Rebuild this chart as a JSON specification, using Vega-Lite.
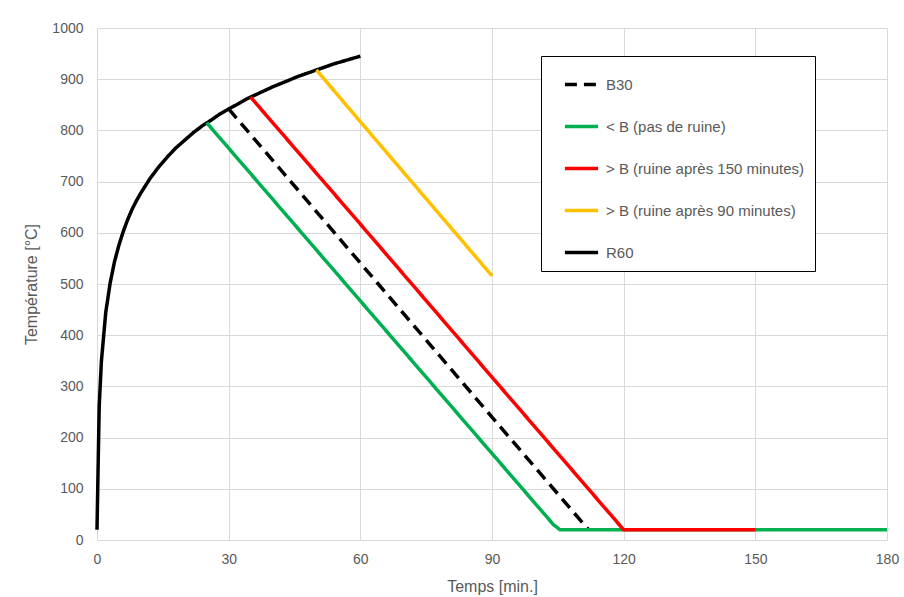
{
  "$schema": "https://vega.github.io/schema/vega-lite/v6.json",
  "width": 790,
  "height": 512,
  "autosize": {"type": "none"},
  "padding": {"left": 97, "top": 28, "right": 17, "bottom": 57},
  "background": "white",
  "config": {
    "font": "Liberation Sans",
    "view": {"stroke": null},
    "axis": {
      "labelColor": "#595959",
      "titleColor": "#595959",
      "labelFontSize": 14,
      "titleFontSize": 16,
      "titleFontWeight": "normal",
      "gridColor": "#d9d9d9",
      "gridWidth": 1,
      "ticks": false,
      "domain": false
    }
  },
  "data": {
    "values": [
      {"serie": "R60", "t": 0, "T": 20},
      {"serie": "R60", "t": 0.5, "T": 261},
      {"serie": "R60", "t": 1, "T": 349},
      {"serie": "R60", "t": 2, "T": 445},
      {"serie": "R60", "t": 3, "T": 502},
      {"serie": "R60", "t": 4, "T": 544},
      {"serie": "R60", "t": 5, "T": 576},
      {"serie": "R60", "t": 6, "T": 603},
      {"serie": "R60", "t": 7, "T": 626},
      {"serie": "R60", "t": 8, "T": 646},
      {"serie": "R60", "t": 9, "T": 663},
      {"serie": "R60", "t": 10, "T": 678},
      {"serie": "R60", "t": 12, "T": 705},
      {"serie": "R60", "t": 14, "T": 728},
      {"serie": "R60", "t": 16, "T": 748},
      {"serie": "R60", "t": 18, "T": 766},
      {"serie": "R60", "t": 20, "T": 781},
      {"serie": "R60", "t": 22, "T": 796},
      {"serie": "R60", "t": 24, "T": 809},
      {"serie": "R60", "t": 26, "T": 820},
      {"serie": "R60", "t": 28, "T": 832},
      {"serie": "R60", "t": 30, "T": 842},
      {"serie": "R60", "t": 32, "T": 851},
      {"serie": "R60", "t": 34, "T": 861},
      {"serie": "R60", "t": 36, "T": 869},
      {"serie": "R60", "t": 38, "T": 877},
      {"serie": "R60", "t": 40, "T": 885},
      {"serie": "R60", "t": 42, "T": 892},
      {"serie": "R60", "t": 44, "T": 899},
      {"serie": "R60", "t": 46, "T": 906},
      {"serie": "R60", "t": 48, "T": 912},
      {"serie": "R60", "t": 50, "T": 918},
      {"serie": "R60", "t": 52, "T": 924},
      {"serie": "R60", "t": 54, "T": 930},
      {"serie": "R60", "t": 56, "T": 935},
      {"serie": "R60", "t": 58, "T": 940},
      {"serie": "R60", "t": 60, "T": 945},
      {"serie": "B30", "t": 30, "T": 842},
      {"serie": "B30", "t": 60, "T": 541},
      {"serie": "B30", "t": 90, "T": 240},
      {"serie": "B30", "t": 112, "T": 20},
      {"serie": "< B (pas de ruine)", "t": 25, "T": 815},
      {"serie": "< B (pas de ruine)", "t": 60, "T": 467},
      {"serie": "< B (pas de ruine)", "t": 90, "T": 169},
      {"serie": "< B (pas de ruine)", "t": 104, "T": 30},
      {"serie": "< B (pas de ruine)", "t": 105.5, "T": 20},
      {"serie": "< B (pas de ruine)", "t": 180, "T": 20},
      {"serie": "> B (ruine après 150 minutes)", "t": 35, "T": 865},
      {"serie": "> B (ruine après 150 minutes)", "t": 60, "T": 617},
      {"serie": "> B (ruine après 150 minutes)", "t": 90, "T": 318},
      {"serie": "> B (ruine après 150 minutes)", "t": 120, "T": 20},
      {"serie": "> B (ruine après 150 minutes)", "t": 150, "T": 20},
      {"serie": "> B (ruine après 90 minutes)", "t": 50, "T": 918},
      {"serie": "> B (ruine après 90 minutes)", "t": 60, "T": 817},
      {"serie": "> B (ruine après 90 minutes)", "t": 90, "T": 516}
    ]
  },
  "mark": {"type": "line", "strokeWidth": 3.5, "interpolate": "linear"},
  "encoding": {
    "x": {
      "field": "t", "type": "quantitative",
      "scale": {"domain": [0, 180], "nice": false, "zero": true},
      "axis": {"values": [0, 30, 60, 90, 120, 150, 180], "title": "Temps [min.]", "labelPadding": 12, "titlePadding": 12, "labelFlush": false}
    },
    "y": {
      "field": "T", "type": "quantitative",
      "scale": {"domain": [0, 1000], "nice": false},
      "axis": {"values": [0, 100, 200, 300, 400, 500, 600, 700, 800, 900, 1000], "format": "d", "title": "Température [°C]", "labelPadding": 14, "titlePadding": 12}
    },
    "order": {"field": "t", "type": "quantitative"},
    "color": {
      "field": "serie", "type": "nominal",
      "sort": ["B30", "< B (pas de ruine)", "> B (ruine après 150 minutes)", "> B (ruine après 90 minutes)", "R60"],
      "scale": {
        "domain": ["B30", "< B (pas de ruine)", "> B (ruine après 150 minutes)", "> B (ruine après 90 minutes)", "R60"],
        "range": ["#000000", "#00b050", "#ff0000", "#ffc000", "#000000"]
      },
      "legend": {
        "title": null,
        "orient": "none",
        "legendX": 444,
        "legendY": 28,
        "symbolType": "stroke",
        "symbolSize": 1100,
        "symbolStrokeWidth": 3.5,
        "symbolOffset": 12,
        "labelFontSize": 15,
        "labelColor": "#595959",
        "labelLimit": 300,
        "rowPadding": 15,
        "padding": 10,
        "strokeColor": "#000000",
        "fillColor": "white",
        "labelOffset": 6
      }
    },
    "strokeDash": {
      "field": "serie", "type": "nominal",
      "sort": ["B30", "< B (pas de ruine)", "> B (ruine après 150 minutes)", "> B (ruine après 90 minutes)", "R60"],
      "scale": {
        "domain": ["B30", "< B (pas de ruine)", "> B (ruine après 150 minutes)", "> B (ruine après 90 minutes)", "R60"],
        "range": [[12, 7], [1, 0], [1, 0], [1, 0], [1, 0]]
      },
      "legend": {
        "title": null,
        "orient": "none",
        "legendX": 444,
        "legendY": 28,
        "symbolType": "stroke",
        "symbolSize": 1100,
        "symbolStrokeWidth": 3.5,
        "symbolOffset": 12,
        "labelFontSize": 15,
        "labelColor": "#595959",
        "labelLimit": 300,
        "rowPadding": 15,
        "padding": 10,
        "strokeColor": "#000000",
        "fillColor": "white",
        "labelOffset": 6
      }
    },
    "strokeWidth": {"value": 3.5}
  }
}
